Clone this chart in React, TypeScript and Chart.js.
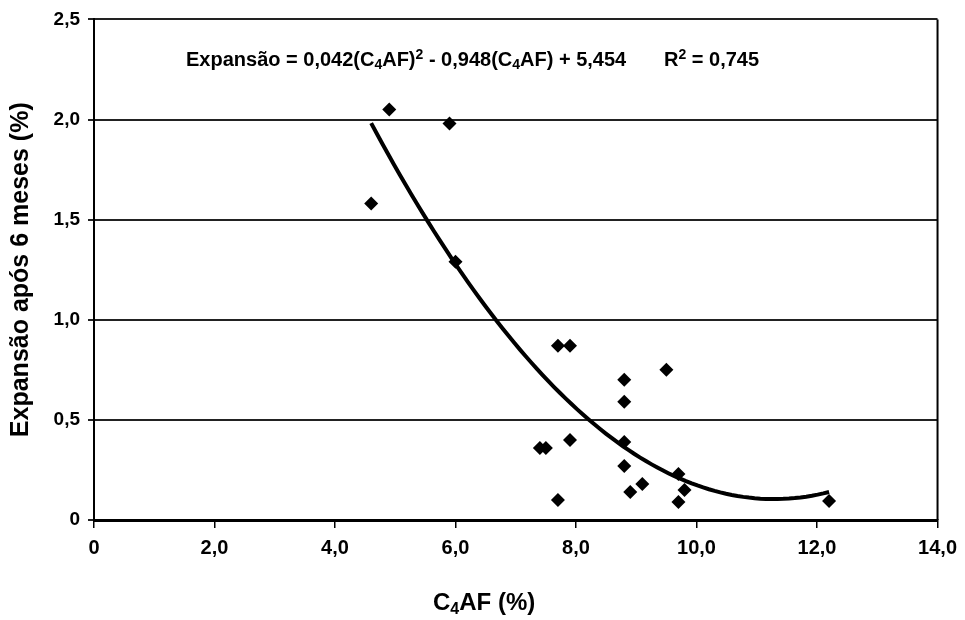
import React, { useEffect, useRef } from 'react';
import { Chart, registerables } from 'chart.js';

Chart.register(...registerables);

// Measured data (C4AF %, expansion after 6 months %)
const c4afValues = [4.6, 4.9, 5.9, 6.0, 7.7, 7.9, 7.4, 7.5, 7.9, 7.7, 8.8, 8.8, 8.8, 8.8, 8.9, 9.1, 9.5, 9.7, 9.7, 9.8, 12.2];
const expansionValues = [1.58, 2.05, 1.98, 1.29, 0.87, 0.87, 0.36, 0.36, 0.40, 0.10, 0.70, 0.59, 0.39, 0.27, 0.14, 0.18, 0.75, 0.23, 0.09, 0.15, 0.095];

// Fitted polynomial trend shown on the chart: a*x^2 + b*x + c
const trendCoefficients = [0.042, -0.948, 5.454];
const trendRange = [4.6, 12.2];

const xTickValues = [0, 2, 4, 6, 8, 10, 12, 14];
const yTickValues = [0, 0.5, 1, 1.5, 2, 2.5];

const yAxisTitle = 'Expansão após 6 meses (%)';

type Seg = [string, 'n' | 'sub' | 'sup'];

const equationSegments: Seg[] = [
  ['Expansão = 0,042(C', 'n'], ['4', 'sub'], ['AF)', 'n'], ['2', 'sup'],
  [' - 0,948(C', 'n'], ['4', 'sub'], ['AF) + 5,454', 'n'],
];
const r2Segments: Seg[] = [['R', 'n'], ['2', 'sup'], [' = 0,745', 'n']];
const xTitleSegments: Seg[] = [['C', 'n'], ['4', 'sub'], ['AF (%)', 'n']];

const FONT = '"Liberation Sans", Arial, sans-serif';

function fmt(v: number): string {
  return v === 0 ? '0' : v.toFixed(1).replace('.', ',');
}

function drawRich(ctx: CanvasRenderingContext2D, x: number, y: number, segs: Seg[], size: number) {
  let cx = x;
  ctx.textBaseline = 'alphabetic';
  ctx.textAlign = 'left';
  ctx.fillStyle = '#000';
  for (const [t, m] of segs) {
    const s = m === 'n' ? size : Math.round(size * 0.68);
    const dy = m === 'sub' ? size * 0.16 : m === 'sup' ? -size * 0.36 : 0;
    ctx.font = `bold ${s}px ${FONT}`;
    ctx.fillText(t, cx, y + dy);
    cx += ctx.measureText(t).width;
  }
}

const decorPlugin = {
  id: 'decor',
  afterDraw(chart: any) {
    const { ctx, chartArea } = chart;
    ctx.save();
    ctx.strokeStyle = '#000';
    ctx.lineWidth = 2;
    ctx.beginPath();
    ctx.moveTo(chartArea.right, chartArea.top);
    ctx.lineTo(chartArea.right, chartArea.bottom);
    ctx.stroke();
    drawRich(ctx, 186, 66, equationSegments, 20);
    drawRich(ctx, 664, 66, r2Segments, 20);
    drawRich(ctx, 433, 610, xTitleSegments, 24);
    ctx.restore();
  },
};

export default function App() {
  const ref = useRef<HTMLCanvasElement | null>(null);

  useEffect(() => {
    document.body.style.margin = '0';
    if (!ref.current) return;
    const trend: { x: number; y: number }[] = [];
    const n = 80;
    for (let i = 0; i <= n; i++) {
      const x = trendRange[0] + ((trendRange[1] - trendRange[0]) * i) / n;
      trend.push({ x, y: trendCoefficients[0] * x * x + trendCoefficients[1] * x + trendCoefficients[2] });
    }
    const points = c4afValues.map((x, i) => ({ x, y: expansionValues[i] }));

    const chart = new Chart(ref.current, {
      type: 'scatter',
      data: {
        datasets: [
          {
            label: 'Trend',
            data: trend,
            showLine: true,
            borderColor: '#000',
            borderWidth: 4,
            pointRadius: 0,
            tension: 0,
          } as any,
          {
            label: 'Data',
            data: points,
            pointStyle: 'rectRot',
            pointRadius: 7,
            backgroundColor: '#000',
            borderColor: '#000',
            borderWidth: 0,
          } as any,
        ],
      },
      options: {
        animation: false,
        responsive: false,
        layout: { padding: { top: 18, right: 24, left: 0, bottom: 0 } },
        plugins: { legend: { display: false }, tooltip: { enabled: false } },
        scales: {
          x: {
            type: 'linear',
            min: 0,
            max: 14,
            afterBuildTicks: (s: any) => { s.ticks = xTickValues.map((v) => ({ value: v })); },
            afterFit: (s: any) => { s.height = 100; },
            ticks: {
              callback: (v: any) => fmt(Number(v)),
              color: '#000',
              font: { family: FONT, size: 20, weight: 'bold' },
              padding: 8,
              maxRotation: 0,
            },
            grid: { drawOnChartArea: false, drawTicks: true, tickLength: 8, color: '#000', lineWidth: 1.5 },
            border: { color: '#000', width: 3 },
          },
          y: {
            type: 'linear',
            min: 0,
            max: 2.5,
            afterBuildTicks: (s: any) => { s.ticks = yTickValues.map((v) => ({ value: v })); },
            afterFit: (s: any) => { s.width = 94; },
            ticks: {
              callback: (v: any) => fmt(Number(v)),
              color: '#000',
              font: { family: FONT, size: 19, weight: 'bold' },
              padding: 8,
            },
            grid: { color: '#222', lineWidth: 2, tickLength: 6 },
            border: { color: '#000', width: 2 },
            title: {
              display: true,
              text: yAxisTitle,
              color: '#000',
              font: { family: FONT, size: 25, weight: 'bold' },
              padding: { top: 6, bottom: 0 },
            },
          },
        },
      },
      plugins: [decorPlugin],
    });
    return () => chart.destroy();
  }, []);

  return (
    <div style={{ width: 965, height: 620, background: '#fff' }}>
      <canvas ref={ref} width={965} height={620} style={{ display: 'block' }} />
    </div>
  );
}
